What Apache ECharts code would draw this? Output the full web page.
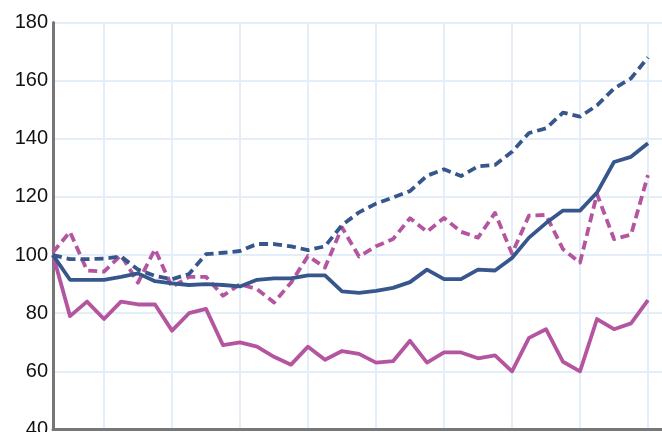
<!DOCTYPE html>
<html>
<head>
<meta charset="utf-8">
<script src="https://cdn.jsdelivr.net/npm/echarts@6/dist/echarts.min.js"></script>
<style>
html,body{margin:0;padding:0;background:#fff;}
#chart{width:662px;height:432px;}
</style>
</head>
<body>
<div id="chart"></div>
<script>
// 36 periods (plus one empty slot at the right edge)
const categories = Array.from({length: 37}, (_, i) => String(i + 1));

const solidBlue = [100, 91.5, 91.5, 91.5, 92.5, 93.7, 91, 90.3, 89.7, 90, 89.7, 89.2, 91.5, 92, 92, 93, 93, 87.5, 87, 87.7, 88.7, 90.7, 95, 91.7, 91.7, 95, 94.7, 99, 106, 111, 115.3, 115.3, 121.5, 132, 133.8, 138.5];
const dashedBlue = [100, 98.6, 98.6, 98.8, 99.5, 95, 92.8, 91.7, 93.5, 100.3, 100.8, 101.4, 103.8, 103.8, 103, 101.7, 103, 110.3, 114.7, 117.7, 119.8, 122, 127.3, 129.5, 127.2, 130.5, 131, 135.5, 142, 143.6, 149, 147.6, 151.5, 157.3, 160.8, 168];
const solidPink = [100, 79, 84, 78, 84, 83, 83, 74, 80, 81.5, 69, 70, 68.5, 65, 62.3, 68.5, 64, 67, 66, 63, 63.5, 70.5, 63, 66.5, 66.5, 64.5, 65.5, 60, 71.5, 74.5, 63.3, 60, 78, 74.5, 76.5, 84.5];
const dashedPink = [101, 108, 94.7, 94.3, 100, 90.5, 102, 89, 92.5, 92.5, 86, 90, 88.3, 83.7, 90.5, 99.7, 95.7, 109.5, 99.5, 103, 105.5, 112.7, 108, 112.8, 108, 106, 114.5, 100.5, 113.6, 113.8, 102, 97.4, 121, 105.5, 107, 127.5];

const yMin = 40, yMax = 180, yStep = 20;

const BLUE = '#37578c';
const PINK = '#b3559f';
const GRID = '#e4eef8';

function line(name, data, color, dashed) {
  return {
    name, type: 'line', data,
    showSymbol: false, symbol: 'none',
    lineStyle: {color, width: 3.8, type: dashed ? [9, 5] : 'solid', cap: 'butt', join: 'round'},
    itemStyle: {color},
    z: 3
  };
}

const chart = echarts.init(document.getElementById('chart'), null, {renderer: 'canvas'});
chart.setOption({
  animation: false,
  backgroundColor: '#ffffff',
  grid: {left: 53, top: 22.5, width: 612, height: 407, containLabel: false, outerBoundsMode: 'none'},
  xAxis: {
    type: 'category',
    data: categories,
    boundaryGap: false,
    axisLine: {show: true, lineStyle: {color: '#777', width: 3}},
    axisTick: {show: false},
    axisLabel: {show: false},
    splitLine: {show: true, interval: (idx) => idx % 4 === 3, lineStyle: {color: GRID, width: 2}}
  },
  yAxis: {
    type: 'value',
    min: yMin, max: yMax, interval: yStep,
    axisLine: {show: true, lineStyle: {color: '#777', width: 3}},
    axisTick: {show: false},
    axisLabel: {color: '#111', fontSize: 20, fontFamily: 'Liberation Sans, Arial, sans-serif', margin: 5},
    splitLine: {show: true, lineStyle: {color: GRID, width: 2}}
  },
  series: [
    line('solidPink', solidPink, PINK, false),
    line('dashedPink', dashedPink, PINK, true),
    line('solidBlue', solidBlue, BLUE, false),
    line('dashedBlue', dashedBlue, BLUE, true)
  ]
});
</script>
</body>
</html>
